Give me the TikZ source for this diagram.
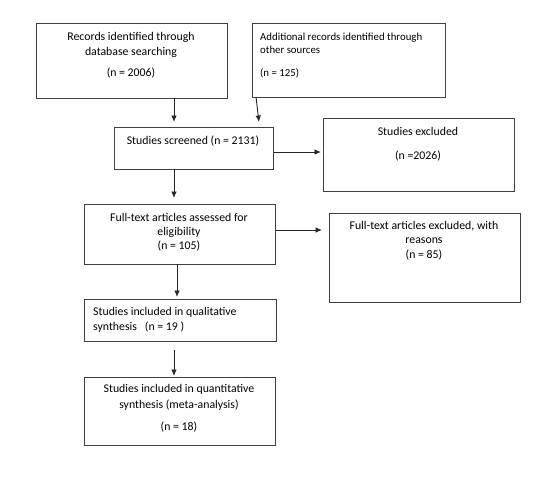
\documentclass[tikz,border=0pt]{standalone}
\usepackage{fontspec}
\setmainfont{Carlito}
\usetikzlibrary{arrows.meta,calc}
\begin{document}
\begin{tikzpicture}[x=1pt,y=-1pt,
  box/.style={draw=black!75,line width=0.9pt,inner sep=0pt,anchor=north west},
  lbl/.style={inner sep=0pt,font=\fontsize{11.8}{14}\selectfont,text=black},
  lbls/.style={lbl,font=\fontsize{10.8}{14}\selectfont},
  arr/.style={draw=black!85,line width=0.9pt,-{Latex[length=6.5pt,width=5.5pt]}}]
\useasboundingbox[fill=white] (0,0) rectangle (550,479);
% boxes
\node[box,minimum width=191pt,minimum height=75pt] (b1) at (36,23) {};
\node[box,minimum width=193pt,minimum height=74pt] (b2) at (252,23) {};
\node[box,minimum width=159pt,minimum height=42pt] (b3) at (114,127) {};
\node[box,minimum width=191pt,minimum height=73pt] (b4) at (323,118) {};
\node[box,minimum width=191pt,minimum height=60pt] (b5) at (84,204) {};
\node[box,minimum width=191pt,minimum height=89pt] (b6) at (329,213) {};
\node[box,minimum width=192pt,minimum height=42pt] (b7) at (84,299) {};
\node[box,minimum width=191pt,minimum height=68pt] (b8) at (84,377) {};
% texts
\node[lbl] (t1a) at (131,37) {Records identified through};
\node[lbl] (t1b) at (131,52) {database searching};
\node[lbl] (t1c) at (131,73) {(n = 2006)};
\node[lbls,anchor=west] (t2a) at (260,38) {Additional records identified through};
\node[lbls,anchor=west] (t2b) at (260,50) {other sources};
\node[lbls,anchor=west] (t2c) at (260,73) {(n = 125)};
\node[lbl] (t3) at (193,141) {Studies screened (n = 2131)};
\node[lbl] (t4a) at (418,131) {Studies excluded};
\node[lbl] (t4b) at (418,156) {(n =2026)};
\node[lbl] (t5a) at (179,217) {Full-text articles assessed for};
\node[lbl] (t5b) at (179,232) {eligibility};
\node[lbl] (t5c) at (179,246) {(n = 105)};
\node[lbl] (t6a) at (424,226) {Full-text articles excluded, with};
\node[lbl] (t6b) at (424,241) {reasons};
\node[lbl] (t6c) at (424,255) {(n = 85)};
\node[lbl,anchor=west] (t7a) at (93,312) {Studies included in qualitative};
\node[lbl,anchor=west] (t7b) at (93,327) {synthesis\ \ \ (n = 19 )};
\node[lbl] (t8a) at (179,389) {Studies included in quantitative};
\node[lbl] (t8b) at (179,405) {synthesis (meta-analysis)};
\node[lbl] (t8c) at (179,427) {(n = 18)};
% arrow end coordinates
\coordinate (a1s) at (174,98);
\coordinate (a1e) at (174,122);
\coordinate (a2s) at (256,97);
\coordinate (a2e) at (259,122);
\coordinate (a3e) at (321,152);
\coordinate (a4s) at (174,169);
\coordinate (a4e) at (174,198);
\coordinate (a5e) at (322,230);
\coordinate (a6s) at (177,264);
\coordinate (a6e) at (177,297);
\coordinate (a7s) at (174,350);
\coordinate (a7e) at (174,376);
% connectors
\draw[arr] (a1s) -- (a1e);
\draw[arr] (a2s) -- (a2e);
\draw[arr] (b3.east |- a3e) -- (a3e);
\draw[arr] (a4s) -- (a4e);
\draw[arr] (b5.east |- a5e) -- (a5e);
\draw[arr] (a6s) -- (a6e);
\draw[arr] (a7s) -- (a7e);
\end{tikzpicture}
\end{document}
